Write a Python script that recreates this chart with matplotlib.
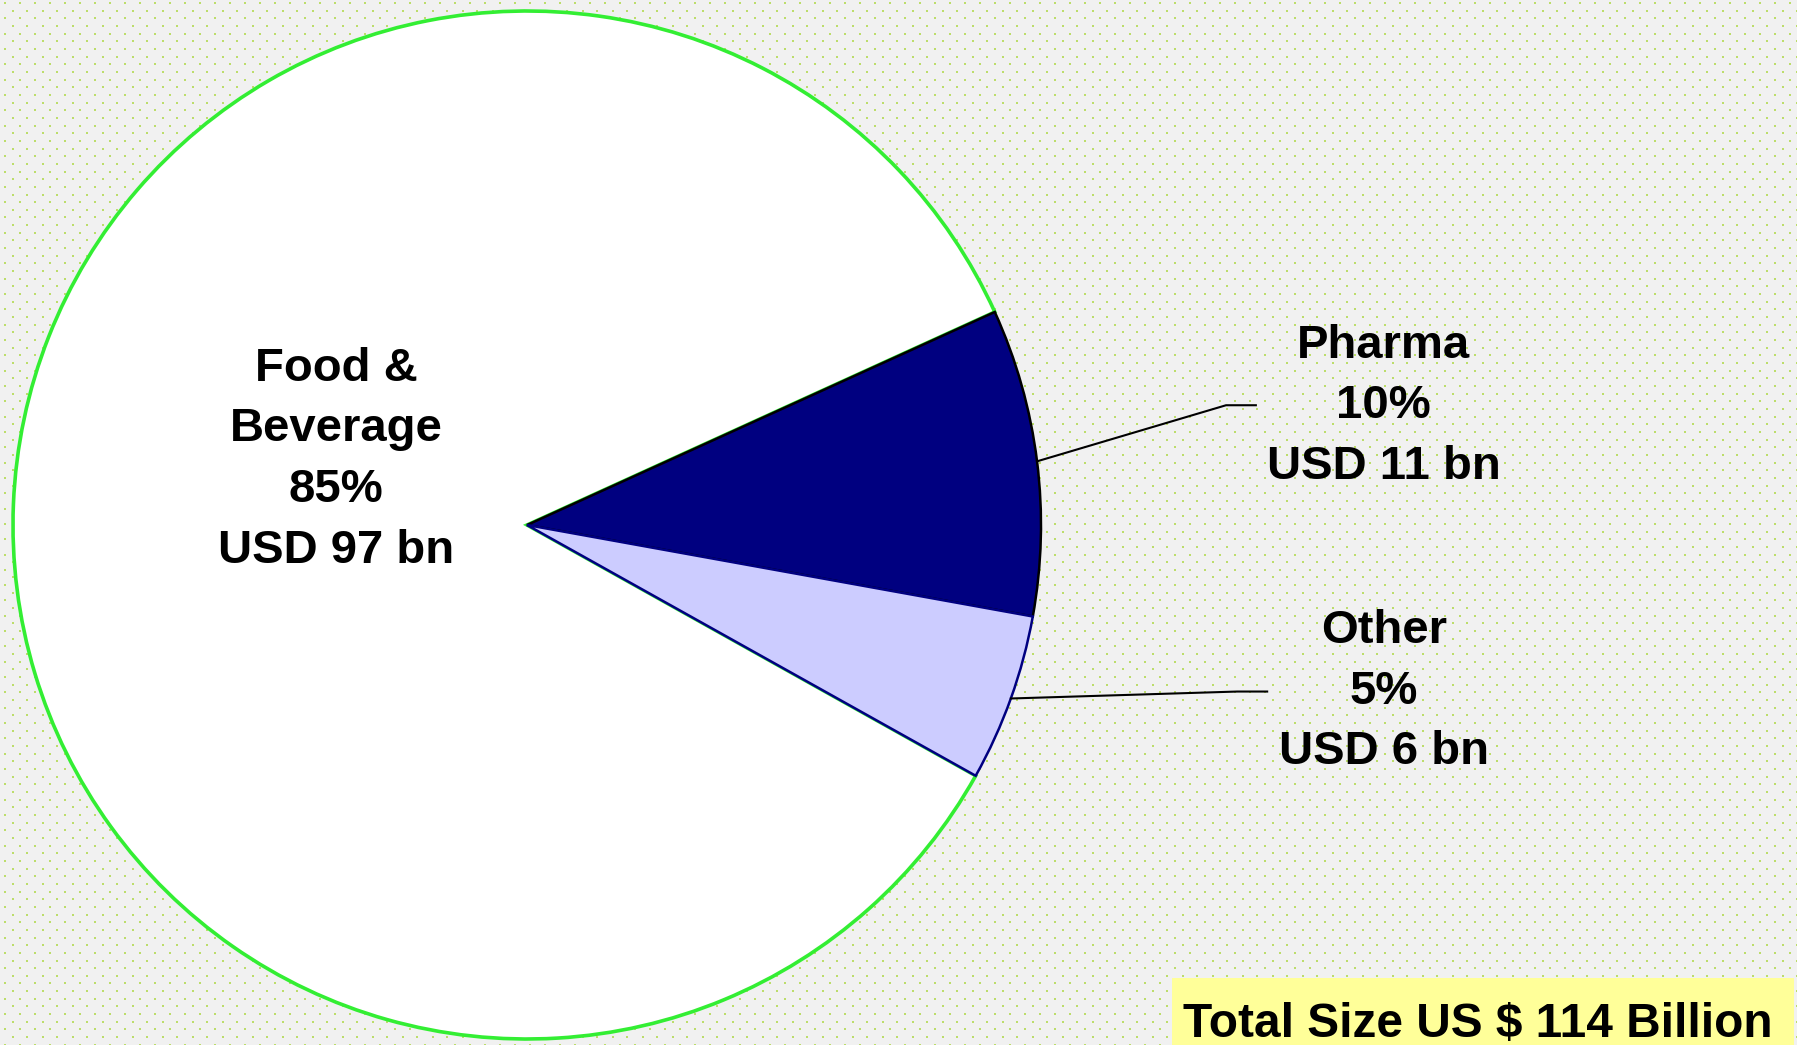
import numpy as np
import matplotlib
matplotlib.use("Agg")
import matplotlib.pyplot as plt
import matplotlib.patches as patches

# chart data
categories = ["Food &\nBeverage", "Pharma", "Other"]
values_bn = [97, 11, 6]
shares = ["85%", "10%", "5%"]
total_label = "Total Size US $ 114 Billion"

face_colors = ["#ffffff", "#000080", "#ccccff"]
edge_colors = ["#33ee33", "#000000", "#000080"]
edge_widths = [2.6, 1.8, 1.8]

W, H = 1797, 1045
fig = plt.figure(figsize=(W / 100, H / 100), dpi=100)
plt.rcParams['font.family'] = ['Liberation Sans', 'DejaVu Sans']

# dotted background (light gray with small green dots)
bg = np.full((H, W, 3), 0.949)
for i, y in enumerate(np.arange(2, H, 7.66)):
    off = 0 if i % 2 == 0 else 7.5
    for x in np.arange(4 + off, W, 15):
        yi, xi = int(round(y)), int(round(x))
        bg[yi:yi + 2, xi:xi + 2] = (0.74, 0.87, 0.42)
fig.figimage(bg, xo=0, yo=0, origin='upper', zorder=-5)

# pie axes: centre ~ (527, 520 from bottom), radius ~514 px
cx, cy, r = 527, 520, 514
ax = fig.add_axes([(cx - r) / W, (cy - r) / H, 2 * r / W, 2 * r / H], zorder=1)
ax.axis('off')

wedges, _ = ax.pie(values_bn, colors=face_colors, startangle=330.8,
                   counterclock=False, radius=1.0)
for w, ec, lw in zip(wedges, edge_colors, edge_widths):
    w.set_edgecolor(ec)
    w.set_linewidth(lw)
ax.set_xlim(-1, 1)
ax.set_ylim(-1, 1)

font = dict(fontsize=34, fontweight='bold', ha='center', va='center',
            linespacing=1.49, color='black')

# Food & Beverage label inside the pie
ax.text(-0.371, 0.127, f"{categories[0]}\n{shares[0]}\nUSD {values_bn[0]} bn", **font)

# outside labels with leader lines
label_pos = {1: (1.667, 0.231), 2: (1.667, -0.324)}
elbow = {1: (1.36, 0.233, 1.418), 2: (1.382, -0.324, 1.44)}
for i in (1, 2):
    w = wedges[i]
    mid = np.deg2rad((w.theta1 + w.theta2) / 2)
    px, py = np.cos(mid), np.sin(mid)
    ex, ey, ex2 = elbow[i]
    ax.plot([px, ex, ex2], [py, ey, ey], color='black', lw=1.5, clip_on=False)
    ax.text(*label_pos[i], f"{categories[i]}\n{shares[i]}\nUSD {values_bn[i]} bn",
            clip_on=False, **font)

# total size box
fig.patches.append(patches.Rectangle((1172 / W, 0), 622 / W, 67 / H,
                                     transform=fig.transFigure,
                                     facecolor='#ffff99', edgecolor='none', zorder=2))
fig.text(1183 / W, 8 / H, total_label, fontsize=34.5, fontweight='bold',
         ha='left', va='baseline', zorder=3)

fig.savefig("out.png", dpi=100)
